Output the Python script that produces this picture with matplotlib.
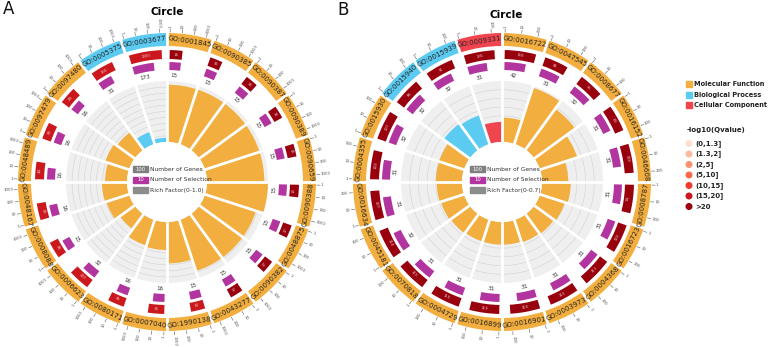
import numpy as np
import matplotlib
matplotlib.use("Agg")
import matplotlib.pyplot as plt
from matplotlib.patches import Rectangle, Circle

# ---- data ----
A_terms = ["GO:0001845", "GO:0090385", "GO:0090387", "GO:0090389", "GO:0090659",
           "GO:0090388", "GO:0048875", "GO:0090382", "GO:0043277", "GO:1990138",
           "GO:0007040", "GO:0080171", "GO:0006623", "GO:0008088", "GO:0048167",
           "GO:0048489", "GO:0097479", "GO:0097480", "GO:0005375", "GO:0003677"]
A_cat = ["MF"] * 18 + ["BP", "BP"]
A_total = [16, 16, 16, 16, 16, 15, 17, 17, 17, 22, 35, 36, 107, 38, 39, 44, 39, 44, 150, 1265]
A_sel = [15, 15, 15, 15, 15, 15, 15, 15, 15, 15, 16, 16, 32, 15, 16, 16, 16, 16, 31, 173]
A_rf = [0.94, 0.94, 0.94, 0.94, 0.94, 1.0, 0.88, 0.88, 0.88, 0.68,
        0.46, 0.44, 0.30, 0.39, 0.41, 0.36, 0.41, 0.36, 0.21, 0.07]
A_q = [">20"] * 9 + ["(15,20]"] * 11

B_terms = ["GO:0016722", "GO:0047545", "GO:0008677", "GO:0016152", "GO:0046608",
           "GO:0008787", "GO:0016723", "GO:0004368", "GO:0003973", "GO:0016901",
           "GO:0016899", "GO:0004729", "GO:0070818", "GO:0045181", "GO:0016634",
           "GO:0004355", "GO:0015930", "GO:0015940", "GO:0015939", "GO:0009331"]
B_cat = ["MF"] * 17 + ["BP", "BP", "CC"]
B_total = [150, 46, 55, 69, 103, 94, 103, 111, 115, 119, 119, 119, 115, 114, 107, 103, 107, 86, 91, 135]
B_sel = [42, 31, 32, 31, 31, 31, 31, 31, 31, 31, 31, 31, 31, 32, 31, 31, 32, 32, 32, 31]
B_rf = [0.28, 0.68, 0.58, 0.45, 0.30, 0.33, 0.30, 0.28, 0.27, 0.26,
        0.26, 0.26, 0.27, 0.28, 0.29, 0.30, 0.30, 0.37, 0.35, 0.23]
B_q = [">20"] * 20

cat_names = {"MF": "Molecular Function", "BP": "Biological Process", "CC": "Cellular Component"}
cat_colors = {"MF": "#f2ae3e", "BP": "#5ccbf2", "CC": "#f0444f"}
q_levels = ["(0,1.3]", "(1.3,2]", "(2,5]", "(5,10]", "(10,15]", "(15,20]", ">20"]
q_colors = ["#fde0d2", "#fcbba1", "#fc9272", "#fb6a4a", "#ef3b2c", "#cb181d", "#99000d"]
purple = "#b2349f"

W, H = 777, 347
fig = plt.figure(figsize=(W / 100, H / 100), dpi=100)

R0, R1 = 40, 101        # rich factor ring
RP, HP = 112, 8         # purple ring
RR, HR = 123, 9         # red ring
RB, HB = 136, 13        # category band
RMAX = 175


def tang_rot(a):
    a = a % 360
    r = -a
    if 90 < a < 270:
        r += 180
    return r


def rad_rot(a):
    a = a % 360
    if a <= 180:
        return 90 - a, "left"
    return 270 - a, "right"


def draw_circle(cx, cy, terms, cats, total, sel, rf, q, rfmax, ticks, maxlog):
    ax = fig.add_axes([(cx - RMAX) / W, (H - cy - RMAX) / H, 2 * RMAX / W, 2 * RMAX / H],
                      projection="polar")
    ax.set_theta_zero_location("N")
    ax.set_theta_direction(-1)
    ax.set_ylim(0, RMAX)
    ax.axis("off")
    n = len(terms)
    step = 360 / n
    w = np.radians(step)
    off = np.radians(1.2)
    for i, t in enumerate(terms):
        a0 = i * step
        th0 = np.radians(a0)
        col = cat_colors[cats[i]]
        # background sector + grid
        ax.bar(th0, R1 - R0, width=w, bottom=R0, align="edge", color="#efefef", zorder=1)
        ndiv = int(round(rfmax * 10))
        tt = np.linspace(th0, th0 + w, 30)
        for k in range(1, ndiv):
            ax.plot(tt, [R0 + k * (R1 - R0) / ndiv] * 30, color="#d2d2d2", lw=0.4, zorder=2)
        ax.bar(th0, rf[i] / rfmax * (R1 - R0), width=w, bottom=R0, align="edge",
               color=col, zorder=3)
        # outer category band
        ax.bar(th0, HB, width=w, bottom=RB, align="edge", color=col, zorder=3)
        am = a0 + step / 2
        ax.text(np.radians(am), RB + HB / 2, t, rotation=tang_rot(am), ha="center",
                va="center", rotation_mode="anchor", fontsize=5, color="#222222", zorder=6)
        # log axis ticks
        for v in ticks:
            th = th0 + off + np.log10(v) / maxlog * (w - off)
            ax.plot([th, th], [RB + HB + 1, RB + HB + 4], color="#777777", lw=0.5, zorder=4)
            rot, ha = rad_rot(np.degrees(th))
            ax.text(th, RB + HB + 5, str(v), rotation=rot, ha=ha, va="center",
                    rotation_mode="anchor", fontsize=2.8, color="#555555", zorder=4)
        # red bar (number of genes), coloured by Qvalue
        lr = np.log10(total[i]) / maxlog * (w - off)
        ax.bar(th0 + off, HR, width=lr, bottom=RR, align="edge",
               color=q_colors[q_levels.index(q[i])], zorder=3)
        amr = np.degrees(th0 + off + lr / 2)
        ax.text(np.radians(amr), RR + HR / 2, str(total[i]), rotation=tang_rot(amr),
                ha="center", va="center", rotation_mode="anchor", fontsize=2.8,
                color="#f3c9c9", zorder=4)
        # purple bar (number of selection)
        lp = np.log10(sel[i]) / maxlog * (w - off)
        ax.bar(th0 + off, HP, width=lp, bottom=RP, align="edge",
               color=purple, zorder=3)
        amp = np.degrees(th0 + off + lp / 2)
        ax.text(np.radians(amp), RP - 5, str(sel[i]), rotation=tang_rot(amp),
                ha="center", va="center", rotation_mode="anchor", fontsize=4,
                color="#333333", zorder=4)
    # white separators
    for i in range(n):
        th = np.radians(i * step)
        ax.plot([th, th], [R0 - 2, RB + HB + 0.5], color="white", lw=2, zorder=5)
    ax.bar(0, R0, width=2 * np.pi, bottom=0, color="white", zorder=5)
    return ax


draw_circle(167, 182, A_terms, A_cat, A_total, A_sel, A_rf, A_q, 1.0, [1, 10, 100, 1000], 3.6)
draw_circle(502, 182, B_terms, B_cat, B_total, B_sel, B_rf, B_q, 0.7, [1, 10, 100], 2.65)

# overlay for titles and legends, in pixel units
ov = fig.add_axes([0, 0, 1, 1])
ov.set_xlim(0, W)
ov.set_ylim(H, 0)
ov.axis("off")
ov.set_zorder(10)

ov.text(3, 9, "A", fontsize=12, ha="left", va="center", color="#111111")
ov.text(337, 10, "B", fontsize=12, ha="left", va="center", color="#111111")
ov.text(167, 12, "Circle", fontsize=7.5, fontweight="bold", ha="center", va="center")
ov.text(506, 15, "Circle", fontsize=7.5, fontweight="bold", ha="center", va="center")

# legends in the hole
for x0, rtxt in [(133, "Rich Factor(0-1.0)"), (470, "Rich Factor(0-0.7)")]:
    rows = [("100", "#7f7f7f", "Number of Genes"),
            ("10", purple, "Number of Selection"),
            ("", "#8c8c8c", rtxt)]
    for k, (lab, c, txt) in enumerate(rows):
        y = 169 + k * 10.5
        ov.add_patch(Rectangle((x0, y - 3), 15, 6, color=c))
        if lab:
            ov.text(x0 + 7.5, y, lab, fontsize=3.8, color="white", ha="center", va="center")
        ov.text(x0 + 17, y, txt, fontsize=4.3, color="#333333", ha="left", va="center")

# category legend
for k, c in enumerate(["MF", "BP", "CC"]):
    y = 84 + k * 10.5
    ov.add_patch(Rectangle((686, y - 3), 6, 6, color=cat_colors[c]))
    ov.text(694, y, cat_names[c], fontsize=4.8, fontweight="bold", ha="left",
            va="center", color="#222222")

ov.text(687, 130, "-log10(Qvalue)", fontsize=5, fontweight="bold", ha="left",
        va="center", color="#222222")
for k, (lab, c) in enumerate(zip(q_levels, q_colors)):
    y = 143.5 + k * 10.5
    ov.add_patch(Circle((689, y), 2.8, color=c))
    ov.text(695, y, lab, fontsize=5, fontweight="bold", ha="left", va="center",
            color="#222222")

fig.savefig("out.png", dpi=100)
